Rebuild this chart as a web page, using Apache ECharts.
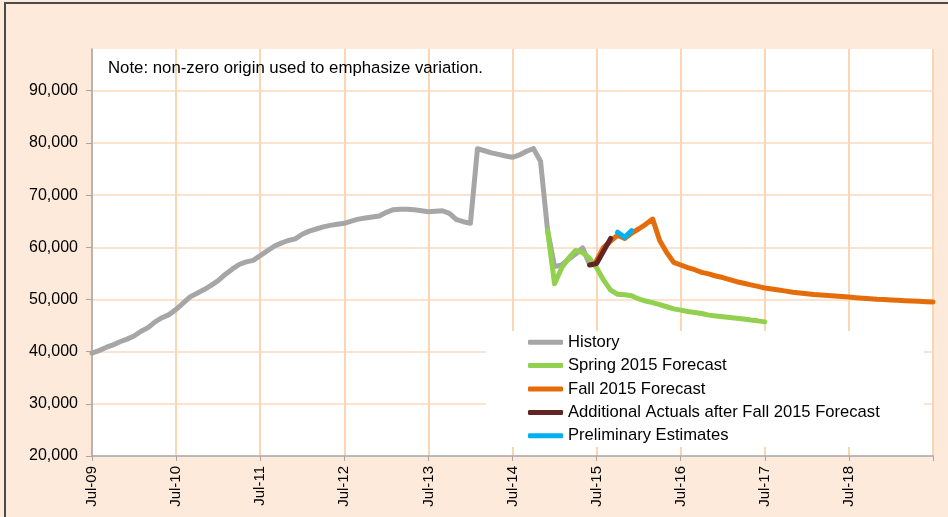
<!DOCTYPE html>
<html><head><meta charset="utf-8">
<script src="https://cdn.jsdelivr.net/npm/echarts@6/dist/echarts.min.js"></script>
<style>
html,body{margin:0;padding:0;background:#FDEADA;overflow:hidden}
#frame{position:absolute;left:4px;top:2px;width:2000px;height:2000px;border-left:2px solid #4a4a4a;border-top:2px solid #4a4a4a;}
#chart{position:absolute;left:0;top:0;width:948px;height:517px}
</style></head><body><div id="frame"></div><div id="chart"></div>
<script>
// Month categories Jul-09 .. Jul-19
var monthNames = ['Jan','Feb','Mar','Apr','May','Jun','Jul','Aug','Sep','Oct','Nov','Dec'];
var categories = [];
for (var k = 0; k <= 120; k++) {
  var m = (6 + k) % 12, yr = 9 + Math.floor((6 + k) / 12);
  categories.push(monthNames[m] + '-' + (yr < 10 ? '0' + yr : '' + yr));
}
var yTicks = [20000, 30000, 40000, 50000, 60000, 70000, 80000, 90000];

var historyStart = 0;
var historyValues = [39700,40200,40800,41300,41900,42400,43000,43900,44600,45700,46500,47100,
  48100,49300,50500,51200,51900,52700,53600,54800,55800,56700,57200,57500,
  58400,59300,60200,60800,61300,61600,62500,63100,63500,63900,64200,64400,
  64600,65000,65400,65600,65800,66000,66700,67200,67300,67300,67200,67000,
  66800,66900,67000,66500,65300,64900,64600,78900,78500,78100,77800,77500,
  77250,77700,78400,78900,76500,63300,56300,56600,57700,58700,59900,56700];

var springStart = 65;
var springValues = [63300,53000,56000,57900,59400,59000,57900,56100,53700,51800,51000,50900,
  50700,50100,49700,49400,49000,48600,48200,47950,47700,47500,47300,47000,
  46850,46700,46550,46400,46250,46050,45900,45700];

var fallStart = 72;
var fallValues = [57500,60000,61200,62300,61700,62700,63500,64400,65400,61300,59000,57100,
  56600,56100,55700,55200,54900,54500,54200,53800,53400,53100,52800,52500,
  52200,52000,51800,51600,51400,51250,51100,50950,50850,50750,50650,50550,
  50450,50350,50250,50150,50050,49980,49900,49830,49760,49700,49640,49580,49530];

var actualsStart = 71;
var actualsValues = [56600,56900,59300,61700];

var prelimStart = 75;
var prelimValues = [62900,61900,63200];

function pad(start, vals) {
  var out = [];
  for (var i = 0; i < categories.length; i++) {
    var j = i - start;
    out.push(j >= 0 && j < vals.length ? vals[j] : null);
  }
  return out;
}
function mk(name, start, vals, color) {
  return {
    name: name, type: 'line', data: pad(start, vals), symbol: 'none', showSymbol: false,
    connectNulls: false, silent: true,
    lineStyle: {width: 5, color: color, cap: 'round', join: 'round'},
    itemStyle: {color: color}
  };
}
var FONT = '"Liberation Sans", Arial, sans-serif';
var yearTick = function (idx) { return idx % 12 === 0; };

var chart = echarts.init(document.getElementById('chart'));
chart.setOption({
  animation: false,
  backgroundColor: 'transparent',
  grid: {left: 92, right: 15, top: 49, bottom: 61, show: true, backgroundColor: '#ffffff', borderWidth: 0, containLabel: false},
  xAxis: {
    type: 'category', data: categories, boundaryGap: false,
    axisLine: {show: true, lineStyle: {color: '#A6A6A6', width: 1.5}},
    axisTick: {show: true, interval: yearTick, length: 5, lineStyle: {color: '#A6A6A6'}},
    axisLabel: {interval: function (idx) { return idx % 12 === 0 && idx < 120; }, rotate: 90,
      fontSize: 15, color: '#000', margin: 10, fontFamily: FONT},
    splitLine: {show: true, interval: yearTick, lineStyle: {color: '#FBD6B3', width: 2}}
  },
  yAxis: {
    type: 'value', min: yTicks[0], max: 98000, interval: 10000,
    axisLine: {show: true, lineStyle: {color: '#A6A6A6', width: 1.5}},
    axisTick: {show: true, length: 6, lineStyle: {color: '#A6A6A6'}},
    axisLabel: {fontSize: 16, color: '#000', margin: 14, fontFamily: FONT, showMaxLabel: false,
      formatter: function (v) { return yTicks.indexOf(v) >= 0 ? v.toLocaleString('en-US') : ''; }},
    splitLine: {show: true, showMinLine: false, showMaxLine: false, lineStyle: {color: '#FCE3CF', width: 2}}
  },
  legend: {
    orient: 'vertical', left: 486, top: 331, backgroundColor: '#ffffff',
    padding: [2, 44, 2, 42], itemWidth: 35, itemHeight: 5, itemGap: 5, icon: 'roundRect',
    selectedMode: false,
    textStyle: {fontSize: 16.6, lineHeight: 18.4, color: '#000', fontFamily: FONT},
    data: ['History', 'Spring 2015 Forecast', 'Fall 2015 Forecast', 'Additional Actuals after Fall 2015 Forecast', 'Preliminary Estimates']
  },
  graphic: [{
    type: 'text', x: 108, y: 68, silent: true, z: 100,
    style: {text: 'Note: non-zero origin used to emphasize variation.', fontSize: 16.8, fontFamily: FONT, fill: '#000', verticalAlign: 'middle'}
  }],
  series: [
    mk('History', historyStart, historyValues, '#A6A6A6'),
    mk('Spring 2015 Forecast', springStart, springValues, '#92D050'),
    mk('Fall 2015 Forecast', fallStart, fallValues, '#E46C0A'),
    mk('Additional Actuals after Fall 2015 Forecast', actualsStart, actualsValues, '#632523'),
    mk('Preliminary Estimates', prelimStart, prelimValues, '#00B0F0')
  ]
});
</script></body></html>
